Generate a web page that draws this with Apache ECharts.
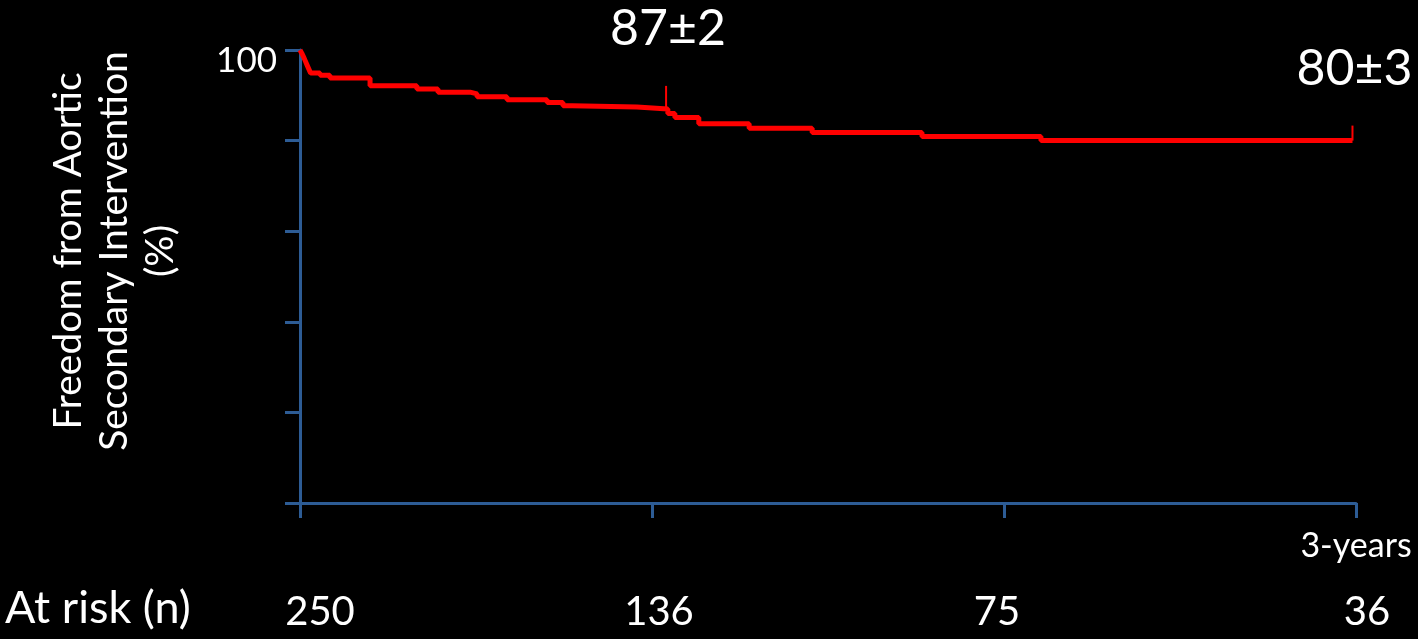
<!DOCTYPE html>
<html>
<head>
<meta charset="utf-8">
<script src="https://cdn.jsdelivr.net/npm/echarts@6/dist/echarts.min.js"></script>
<style>
  html, body { margin: 0; padding: 0; background: #000; }
  #chart { width: 1418px; height: 639px; }
</style>
</head>
<body>
<div id="chart"></div>
<script>
// Kaplan-Meier estimate: time (years) at which freedom from intervention drops, and the new value (%)
const times = [0, 0.005, 0.01, 0.015, 0.02, 0.025, 0.03, 0.057, 0.085, 0.199, 0.332, 0.392, 0.483, 0.503,
               0.588, 0.702, 0.747, 0.773, 0.957, 1.045, 1.065, 1.133, 1.276, 1.455, 1.767, 2.105, 2.99];
const survival = [100, 99.3, 98.5, 97.6, 96.7, 95.8, 94.9, 94.4, 93.8, 92.1, 91.4, 90.7, 90.3, 89.7,
                  89.0, 88.4, 87.7, 87.4, 87.0, 86.0, 85.1, 83.7, 82.7, 81.8, 80.9, 80.0, 80.0];

// Annotated estimates
const markTimes = [1.04, 2.99];
const markValues = [87, 80];
const markLabels = ['87±2', '80±3'];

// Axis labels and the number-at-risk row
const xTickLabels = ['', '', '', '3-years'];
const yTickLabels = { 100: '100' };
const atRisk = [250, 136, 75, 36];
const atRiskTitle = 'At risk (n)';
const yTitle = 'Freedom from Aortic\nSecondary Intervention\n(%)';

const FONT = 'Lato, "Open Sans", sans-serif';
const AXIS_BLUE = '#2D5C95';
const RED = '#FF0000';

// per-mark tick length (px) above the curve
const censorTickLen = [23, 15];
// horizontal nudge for each at-risk number (px)
const atRiskShift = [20, 7, -7, 11];

const curve = times.map((t, i) => [t, survival[i]]);
const marks = markTimes.map((t, i) => [t, markValues[i]]);

const rich = {};
atRiskShift.forEach((s, i) => {
  rich['r' + i] = {
    color: '#fff', fontSize: 40, fontFamily: FONT,
    padding: s >= 0 ? [0, 0, 0, 2 * s] : [0, -2 * s, 0, 0]
  };
});

const chart = echarts.init(document.getElementById('chart'), null, { renderer: 'canvas' });

chart.setOption({
  backgroundColor: '#000',
  animation: false,
  grid: { left: 300, right: 62, top: 50, bottom: 136, containLabel: false },
  xAxis: [
    {
      type: 'value', min: 0, max: 3, interval: 1,
      axisLine: { show: true, lineStyle: { color: AXIS_BLUE, width: 3 } },
      axisTick: { show: true, length: 15, lineStyle: { color: AXIS_BLUE, width: 3 } },
      splitLine: { show: false },
      axisLabel: {
        color: '#fff', fontSize: 34, fontFamily: FONT, margin: 26,
        formatter: v => xTickLabels[Math.round(v)] || ''
      }
    },
    {
      type: 'value', min: 0, max: 3, interval: 1, position: 'bottom',
      axisLine: { show: false }, axisTick: { show: false }, splitLine: { show: false },
      axisLabel: {
        margin: 89, rich: rich,
        formatter: v => { const i = Math.round(v); return '{r' + i + '|' + atRisk[i] + '}'; }
      }
    }
  ],
  yAxis: {
    type: 'value', min: 0, max: 100, interval: 20,
    axisLine: { show: true, lineStyle: { color: AXIS_BLUE, width: 3 } },
    axisTick: { show: true, length: 15, lineStyle: { color: AXIS_BLUE, width: 3 } },
    splitLine: { show: false },
    axisLabel: {
      margin: 23,
      rich: { t: { color: '#fff', fontSize: 35, fontFamily: FONT, padding: [22, 0, 0, 0] } },
      formatter: v => yTickLabels[v] ? '{t|' + yTickLabels[v] + '}' : ''
    }
  },
  graphic: [
    {
      type: 'text', x: 114, y: 251, rotation: Math.PI / 2,
      style: {
        text: yTitle, fill: '#fff', font: '39px ' + FONT,
        align: 'center', verticalAlign: 'middle', lineHeight: 46
      }
    },
    {
      type: 'text', left: 5, top: 586,
      style: { text: atRiskTitle, fill: '#fff', font: '45px ' + FONT }
    }
  ],
  series: [
    {
      type: 'line', data: curve, step: 'end', showSymbol: false, symbol: 'none',
      lineStyle: { color: RED, width: 5 }, z: 3
    },
    {
      type: 'custom', data: marks, clip: false, z: 4,
      renderItem: function (params, api) {
        const p = api.coord([api.value(0), api.value(1)]);
        const len = censorTickLen[params.dataIndex];
        return {
          type: 'group',
          children: [
            { type: 'line', shape: { x1: p[0], y1: p[1], x2: p[0], y2: p[1] - len },
              style: { stroke: RED, lineWidth: 2 } },
            { type: 'text', x: p[0] + 2, y: p[1] - len - 57,
              style: { text: markLabels[params.dataIndex], fill: '#fff', font: '50px ' + FONT,
                       align: 'center', verticalAlign: 'middle' } }
          ]
        };
      }
    }
  ]
});
</script>
</body>
</html>
